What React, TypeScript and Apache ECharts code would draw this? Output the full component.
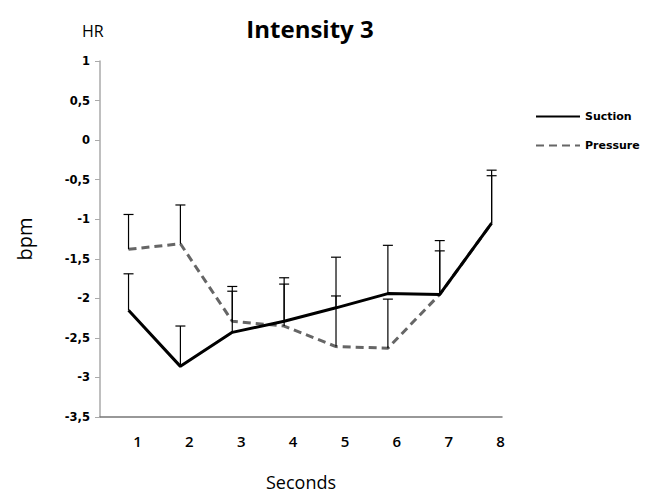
import React, { useEffect, useRef } from "react";
import * as echarts from "echarts";

const seconds = [1, 2, 3, 4, 5, 6, 7, 8];
const suction = [-2.15, -2.86, -2.43, -2.29, -2.12, -1.94, -1.95, -1.05];
const suctionErr = [0.46, 0.51, 0.58, 0.55, 0.64, 0.61, 0.68, 0.67];
const pressure = [-1.38, -1.31, -2.29, -2.35, -2.61, -2.63, -1.95, -1.05];
const pressureErr = [0.44, 0.49, 0.38, 0.53, 0.64, 0.62, 0.55, 0.6];
const yTicks = [-3.5, -3, -2.5, -2, -1.5, -1, -0.5, 0, 0.5, 1];

const FONT = "Open Sans";

export default function App() {
  const ref = useRef<HTMLDivElement>(null);
  useEffect(() => {
    if (!ref.current) return;
    const chart = echarts.init(ref.current, null, { renderer: "svg" });
    const errData = [
      ...seconds.map((s, i) => [s, suction[i], suctionErr[i]]),
      ...seconds.map((s, i) => [s, pressure[i], pressureErr[i]]),
    ];
    chart.setOption({
      animation: false,
      backgroundColor: "#ffffff",
      textStyle: { fontFamily: FONT },
      title: [
        {
          text: "Intensity 3",
          left: 305,
          top: 11,
          textAlign: "center",
          textStyle: { fontFamily: FONT, fontSize: 24, fontWeight: "bold", color: "#000" },
        },
        {
          text: "HR",
          left: 77,
          top: 18,
          textStyle: { fontFamily: FONT, fontSize: 16, fontWeight: "normal", color: "#000" },
        },
      ],
      legend: {
        orient: "vertical",
        left: 530,
        top: 106,
        itemWidth: 44,
        itemHeight: 3,
        itemGap: 18,
        data: ["Suction", "Pressure"],
        itemStyle: { opacity: 0 },
        textStyle: { fontFamily: "DejaVu Sans", fontSize: 11, fontWeight: 600, color: "#000" },
      },
      grid: { left: 100, right: 147, top: 61, bottom: 83, containLabel: false },
      xAxis: {
        type: "value",
        min: 0.45,
        max: 8.2,
        name: "Seconds",
        nameLocation: "middle",
        nameGap: 56,
        nameTextStyle: { fontFamily: FONT, fontSize: 18, color: "#000" },
        axisLine: { show: true, onZero: false, lineStyle: { color: "#777", width: 1.5 } },
        axisTick: { show: false },
        splitLine: { show: false },
        axisLabel: {
          customValues: seconds,
          margin: 16,
          padding: [0, 0, 0, 18],
          fontFamily: FONT,
          fontSize: 15,
          fontWeight: 600,
          color: "#000",
        },
      },
      yAxis: {
        type: "value",
        min: -3.5,
        max: 1,
        interval: 0.5,
        name: "bpm",
        nameLocation: "middle",
        nameGap: 66,
        nameRotate: 90,
        nameTextStyle: { fontFamily: FONT, fontSize: 20, color: "#000" },
        axisLine: { show: true, onZero: false, lineStyle: { color: "#aaa", width: 1.5 } },
        axisTick: { show: true, length: 5, lineStyle: { color: "#aaa" } },
        splitLine: { show: false },
        axisLabel: {
          customValues: yTicks,
          margin: 10,
          fontFamily: "DejaVu Sans",
          fontSize: 11.5,
          fontWeight: "bold",
          color: "#000",
          formatter: (v: number) => String(v).replace(".", ","),
        },
      },
      series: [
        {
          name: "Suction",
          type: "line",
          data: seconds.map((s, i) => [s, suction[i]]),
          symbol: "none",
          lineStyle: { color: "#000", width: 3 },
          itemStyle: { color: "#000" },
          z: 3,
        },
        {
          name: "Pressure",
          type: "line",
          data: seconds.map((s, i) => [s, pressure[i]]),
          symbol: "none",
          lineStyle: { color: "#666", width: 3, type: [8, 5] },
          itemStyle: { color: "#666" },
          z: 2,
        },
        {
          name: "err",
          type: "custom",
          data: errData,
          z: 4,
          renderItem: (params: any, api: any) => {
            const x = api.value(0);
            const y = api.value(1);
            const e = api.value(2);
            const p0 = api.coord([x, y]);
            const p1 = api.coord([x, y + e]);
            const style = { stroke: "#000", lineWidth: 1.2 };
            return {
              type: "group",
              children: [
                { type: "line", shape: { x1: p0[0], y1: p0[1], x2: p1[0], y2: p1[1] }, style },
                { type: "line", shape: { x1: p1[0] - 5, y1: p1[1], x2: p1[0] + 5, y2: p1[1] }, style },
              ],
            };
          },
        },
      ],
    });
    return () => chart.dispose();
  }, []);
  return <div ref={ref} style={{ width: 649, height: 500, margin: -8 }} />;
}
